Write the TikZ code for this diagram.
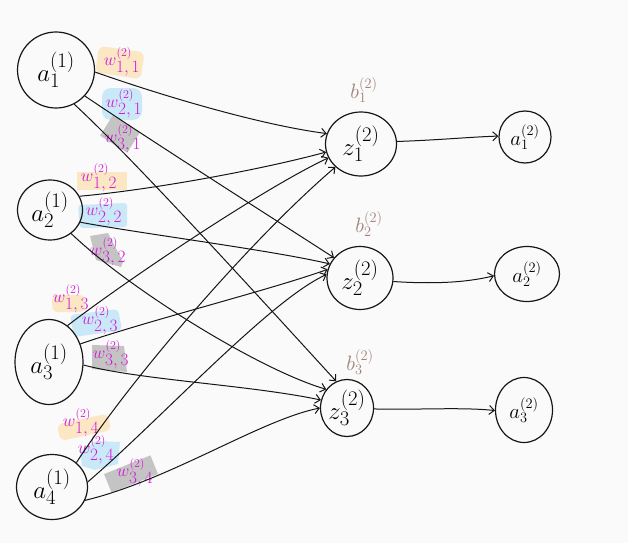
\documentclass[tikz,border=0pt]{standalone}
\usetikzlibrary{shapes.geometric,arrows.meta}

\definecolor{ink}{HTML}{161616}
\definecolor{wmag}{HTML}{D21BD6}
\definecolor{bbrown}{HTML}{A08278}
\definecolor{hlyellow}{HTML}{FCE7C4}
\definecolor{hlblue}{HTML}{C9E8F8}
\definecolor{hlgray}{HTML}{C4C4C4}
\definecolor{paper}{HTML}{FAFAFA}

% weight symbol with full-size indices and a smaller layer tag
\newcommand{\wgt}[1]{$w_{\textstyle #1}^{\scriptstyle (2)}$}

\tikzset{
  unit/.style={draw=ink, line width=1.2pt, ellipse, inner sep=0pt},
  inunit/.style={unit, font=\Huge},
  hidunit/.style={unit, font=\Huge},
  outunit/.style={unit, font=\huge},
  wire/.style={draw=ink, line width=1pt, -{Straight Barb[length=5pt,width=9pt]}},
  wlabel/.style={text=wmag, font=\LARGE, inner sep=0pt},
  blabel/.style={text=bbrown, font=\huge, inner sep=0pt},
  hl/.style={rounded corners=6pt, draw=none},
}

\begin{document}
\begin{tikzpicture}[x=1pt,y=-1pt]
  % page
  \fill[paper] (0,0) rectangle (628,543);
  \useasboundingbox (0,0) rectangle (628,543);

  % highlighter marks behind the weight labels
  \fill[hlyellow, hl, rotate around={-8:(120,62)}] (97,49) rectangle (143,76);
  \fill[hlblue, hl, rounded corners=9pt] (102,88) rectangle (142,120);
  \fill[hlgray, rotate around={-32:(120,134)}] (104,122) rectangle (136,146);
  \fill[hlyellow] (77,172) rectangle (127,190);
  \fill[hlblue, hl, rounded corners=3pt] (78,205) -- (127,203) -- (127,227) -- (80,228) -- cycle;
  \fill[hlgray] (90,236) -- (108,233) -- (123,262) -- (121,267) -- (96,260) -- cycle;
  \fill[hlyellow, hl] (52,295) rectangle (85,312);
  \fill[hlblue, hl, rounded corners=4pt] (70,315) -- (118,309) -- (122,330) -- (74,337) -- cycle;
  \fill[hlgray] (92,345) -- (124,346) -- (127,372) -- (92,369) -- cycle;
  \fill[hlyellow, hl, rotate around={12:(83,427)}] (58,419) rectangle (110,436);
  \fill[hlblue] (80,452) -- (96,441) -- (120,442) -- (118,464) -- (95,470) -- (82,466) -- cycle;
  \fill[hlgray, rotate around={22:(131,474)}] (106,464) rectangle (156,484);

  % units
  \node[inunit, minimum width=77pt, minimum height=76pt] (a1) at (56,70) {$a_1^{(1)}$};
  \node[inunit, minimum width=65pt, minimum height=60pt] (a2) at (50,210) {$a_2^{(1)}$};
  \node[inunit, minimum width=68pt, minimum height=85pt] (a3) at (49,362) {$a_3^{(1)}$};
  \node[inunit, minimum width=71pt, minimum height=65pt] (a4) at (52,487) {$a_4^{(1)}$};

  \node[hidunit, minimum width=71pt, minimum height=64pt] (z1) at (361,144) {$z_1^{(2)}$};
  \node[hidunit, minimum width=66pt, minimum height=63pt] (z2) at (360,278) {$z_2^{(2)}$};
  \node[hidunit, minimum width=53pt, minimum height=57pt] (z3) at (347,408) {$z_3^{(2)}$};

  \node[outunit, minimum width=52pt, minimum height=52pt] (o1) at (525,137) {$a_1^{(2)}$};
  \node[outunit, minimum width=65pt, minimum height=55pt] (o2) at (527,274) {$a_2^{(2)}$};
  \node[outunit, minimum width=57pt, minimum height=65pt] (o3) at (524,410) {$a_3^{(2)}$};

  % biases
  \node[blabel] (b1) at (364,90)  {$b_1^{(2)}$};
  \node[blabel] (b2) at (369,224) {$b_2^{(2)}$};
  \node[blabel] (b3) at (360,362) {$b_3^{(2)}$};

  % weights
  \node[wlabel] (w11) at (122,62)  {\wgt{1,1}};
  \node[wlabel] (w21) at (124,104) {\wgt{2,1}};
  \node[wlabel] (w31) at (123,139) {\wgt{3,1}};
  \node[wlabel] (w12) at (99,178)  {\wgt{1,2}};
  \node[wlabel] (w22) at (104,212) {\wgt{2,2}};
  \node[wlabel] (w32) at (108,252) {\wgt{3,2}};
  \node[wlabel] (w13) at (71,299)  {\wgt{1,3}};
  \node[wlabel] (w23) at (100,321) {\wgt{2,3}};
  \node[wlabel] (w33) at (111,355) {\wgt{3,3}};
  \node[wlabel] (w14) at (81,423)  {\wgt{1,4}};
  \node[wlabel] (w24) at (96,450)  {\wgt{2,4}};
  \node[wlabel] (w34) at (135,473) {\wgt{3,4}};

  % input -> hidden connections
  \draw[wire] (a1.-3)  .. controls (160,95)  and (260,125) .. (z1.163);
  \draw[wire] (a1.-42) .. controls (150,140) and (260,210) .. (z2.142);
  \draw[wire] (a1.-62) .. controls (135,160) and (280,320) .. (z3.112);

  \draw[wire] (a2.25)  .. controls (150,190) and (260,170) .. (z1.193);
  \draw[wire] (a2.-22) .. controls (150,235) and (270,250) .. (z2.155);
  \draw[wire] (a2.-48) .. controls (130,290) and (260,370) .. (z3.138);

  \draw[wire] (a3.63)  .. controls (120,285) and (260,190) .. (z1.203);
  \draw[wire] (a3.30)  .. controls (150,320) and (270,290) .. (z2.165);
  \draw[wire] (a3.-5)  .. controls (140,380) and (250,385) .. (z3.163);

  \draw[wire] (a4.45)  .. controls (130,380) and (250,240) .. (z1.222);
  \draw[wire] (a4.8)   .. controls (160,420) and (270,300) .. (z2.174);
  \draw[wire] (a4.-22) .. controls (170,480) and (260,420) .. (z3.180);

  % hidden -> output
  \draw[wire] (z1.4)  .. controls (440,140) and (470,137) .. (o1.178);
  \draw[wire] (z2.-6) .. controls (430,284) and (465,283) .. (o2.183);
  \draw[wire] (z3.-2) .. controls (420,410) and (460,407) .. (o3.181);
\end{tikzpicture}
\end{document}
